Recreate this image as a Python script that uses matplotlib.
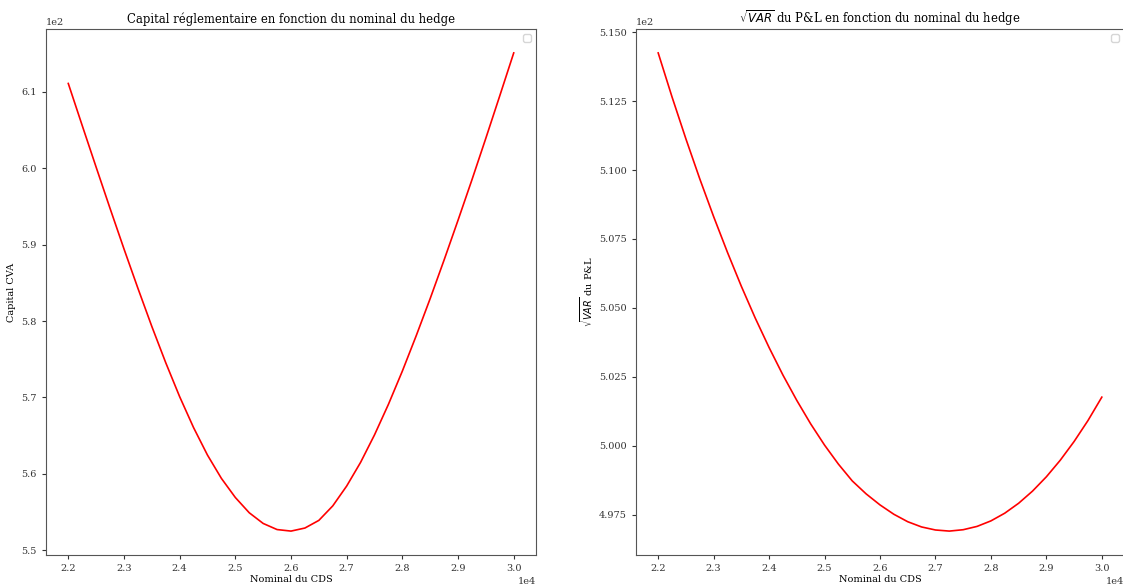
import numpy as np
import matplotlib
matplotlib.use("Agg")
import matplotlib.pyplot as plt

plt.rcParams['font.family'] = 'DejaVu Serif'

# nominal du CDS
nominal = [22000, 22250, 22500, 22750, 23000, 23250, 23500, 23750, 24000,
           24250, 24500, 24750, 25000, 25250, 25500, 25750, 26000, 26250,
           26500, 26750, 27000, 27250, 27500, 27750, 28000, 28250, 28500,
           28750, 29000, 29250, 29500, 29750, 30000]
capital_cva = [611.1, 605.6, 600.15, 594.75, 589.45, 584.3, 579.3, 574.55, 570.1,
               566.05, 562.45, 559.4, 556.9, 554.9, 553.5, 552.7, 552.5, 552.9,
               553.9, 555.8, 558.4, 561.5, 565.1, 569.1, 573.45, 578.1, 582.95,
               588.0, 593.2, 598.5, 603.95, 609.5, 615.1]
sqrt_var = [514.25, 512.65, 511.13, 509.68, 508.31, 507.01, 505.78, 504.63, 503.56,
            502.56, 501.64, 500.79, 500.02, 499.33, 498.72, 498.25, 497.85, 497.51,
            497.24, 497.05, 496.94, 496.90, 496.95, 497.07, 497.27, 497.55, 497.91,
            498.35, 498.87, 499.47, 500.15, 500.91, 501.76]

W, H = 1123, 584
fig = plt.figure(figsize=(W / 100, H / 100), dpi=100)
ax1 = fig.add_axes([46 / W, 29 / H, 490 / W, 526 / H])
ax2 = fig.add_axes([636 / W, 29 / H, 488 / W, 526 / H])

ax1.plot(nominal, capital_cva, color='red', linewidth=1.2)
ax1.set_title('Capital réglementaire en fonction du nominal du hedge', fontsize=8.4, pad=4)
ax1.set_xlabel('Nominal du CDS', fontsize=7, labelpad=1.5)
ax1.set_ylabel('Capital CVA', fontsize=7, labelpad=4)

ax2.plot(nominal, sqrt_var, color='red', linewidth=1.2)
ax2.set_title(r'$\sqrt{VAR}$ du P&L en fonction du nominal du hedge', fontsize=8.4, pad=4)
ax2.set_xlabel('Nominal du CDS', fontsize=7, labelpad=1.5)
ax2.set_ylabel(r'$\sqrt{VAR}$ du P&L', fontsize=7, labelpad=3)

for ax in (ax1, ax2):
    ax.ticklabel_format(style='sci', axis='both', scilimits=(0, 0))
    ax.tick_params(labelsize=7, colors='#333333', length=3)
    ax.xaxis.get_offset_text().set_fontsize(7)
    ax.yaxis.get_offset_text().set_fontsize(7)
    for s in ax.spines.values():
        s.set_color('#555555')
    ax.legend(fontsize=7)

fig.savefig('out.png', dpi=100)
